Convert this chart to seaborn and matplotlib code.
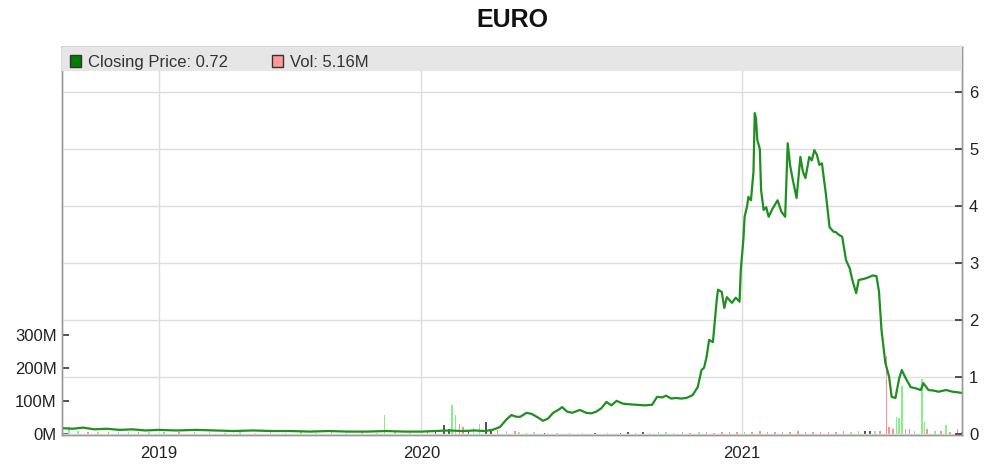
import numpy as np
import matplotlib
matplotlib.use("Agg")
import matplotlib.pyplot as plt
from matplotlib.patches import Patch, Rectangle
import seaborn as sns
import pandas as pd


# Сессии (торговые дни от начала графика) и цены закрытия
price_sessions = [0, 8, 16, 25, 35, 45, 55, 65, 76, 90, 105, 120, 135, 150, 165, 180,
                  195, 210, 225, 240, 255, 270, 283, 295, 305, 315, 325, 333, 339,
                  345, 350, 354, 358, 361, 366, 370, 374, 379, 383, 387, 391, 394, 398,
                  402, 408, 413, 417, 421, 425, 429, 433, 437, 442, 447, 453, 459, 465,
                  469, 473, 476, 480, 484, 488, 492, 497, 501, 504, 506, 508, 510, 513,
                  516, 517, 520, 522, 524, 526, 528, 531, 534, 535, 537, 538, 540, 541,
                  543, 545, 546, 547, 548, 550, 551, 553, 555, 557, 560, 564, 567, 570,
                  572, 574, 576, 579, 582, 584, 586, 589, 591, 593, 595, 597, 599, 602,
                  605, 608, 610, 612, 615, 618, 621, 623, 626, 628, 632, 635, 639, 642,
                  644, 646, 649, 652, 654, 657, 660, 662, 665, 669, 673, 677, 679, 683,
                  687, 691, 697, 702, 706, 709]
close_prices = [0.10, 0.09, 0.11, 0.08, 0.09, 0.07, 0.08, 0.06, 0.07, 0.06, 0.07, 0.06,
                0.05, 0.06, 0.05, 0.05, 0.04, 0.05, 0.04, 0.04, 0.05, 0.04, 0.04, 0.05,
                0.06, 0.05, 0.06, 0.05, 0.07,
                0.12, 0.25, 0.33, 0.30, 0.30, 0.37, 0.35, 0.30, 0.23, 0.27, 0.37, 0.42,
                0.47, 0.39, 0.37, 0.42, 0.37, 0.36, 0.39, 0.45, 0.56, 0.50, 0.58, 0.53,
                0.52, 0.51, 0.50, 0.51, 0.65, 0.64, 0.67, 0.62, 0.63, 0.62, 0.63, 0.68,
                0.82, 1.12, 1.16, 1.35, 1.65, 1.61, 2.35, 2.53, 2.49, 2.21, 2.40, 2.35,
                2.30, 2.39, 2.32, 2.88, 3.40, 3.81, 4.00, 4.16, 4.10, 4.60, 5.63, 5.54,
                5.16, 5.00, 4.28, 3.93, 3.98, 3.81, 3.95, 4.10, 3.90, 3.81, 5.10, 4.70,
                4.46, 4.14, 4.86, 4.60, 4.49, 4.86, 4.80, 4.98, 4.90, 4.72, 4.75, 4.23,
                3.63, 3.55, 3.54, 3.50, 3.46, 3.05, 2.90, 2.70, 2.47, 2.70, 2.72, 2.74,
                2.78, 2.77, 2.50, 1.82, 1.25, 1.00, 0.65, 0.63, 0.98, 1.12, 0.98, 0.82,
                0.80, 0.77, 0.89, 0.77, 0.76, 0.74, 0.77, 0.74, 0.73, 0.72]

# Объём (млн) по сессиям; направление дня: u - рост, d - падение, n - без изменений
vol_sessions = [5, 12, 20, 28, 36, 44, 52, 60, 68, 80, 92, 104, 116, 128, 140, 152, 164,
                176, 188, 200, 212, 224, 236, 248, 254, 262, 274, 288, 294, 301, 305,
                307, 310, 313, 316, 320, 324, 329, 334, 338, 343, 350, 357, 360, 366,
                372, 380, 390, 400, 410, 420, 430, 440, 446, 452, 458, 463, 470, 476,
                482, 489, 495, 502, 508, 514, 520, 526, 532, 538, 544, 550, 556, 562,
                568, 574, 580, 586, 592, 598, 604, 610, 616, 622, 628, 633, 637, 641,
                645, 650, 652, 655, 658, 660, 662, 665, 668, 672, 678, 680, 682, 688,
                693, 697, 700, 706, 709]
vol_millions = [22, 8, 6, 7, 5, 6, 5, 7, 5, 6, 5, 6, 5, 4, 5, 4, 5, 4, 5, 4, 5, 4, 5,
                4, 58, 5, 4, 6, 8, 28, 14, 86, 58, 30, 20, 12, 18, 30, 37, 15, 12, 10, 8,
                6, 4, 5, 3, 4, 3, 4, 3, 4, 4, 5, 3, 6, 4, 5, 6, 4, 5, 4, 6, 5, 4, 6, 5,
                7, 6, 5, 8, 6, 5, 7, 6, 8, 5, 7, 6, 5, 6, 8, 5, 10, 9, 10, 9, 8, 237, 20,
                15, 52, 48, 145, 14, 16, 10, 166, 37, 14, 8, 10, 28, 6, 15, 5.16]
vol_direction = ['u', 'u', 'd', 'u', 'd', 'u', 'u', 'd', 'u', 'u', 'd', 'u', 'u', 'u',
                 'u', 'd', 'u', 'u', 'u', 'u', 'u', 'u', 'u', 'u', 'u', 'u', 'u', 'd',
                 'n', 'n', 'n', 'u', 'u', 'd', 'd', 'n', 'u', 'u', 'n', 'n', 'd', 'u',
                 'd', 'u', 'd', 'u', 'n', 'u', 'd', 'u', 'n', 'u', 'n', 'n', 'd', 'n',
                 'u', 'u', 'u', 'u', 'd', 'd', 'u', 'd', 'd', 'd', 'd', 'd', 'u', 'd',
                 'd', 'd', 'd', 'd', 'd', 'd', 'd', 'd', 'd', 'd', 'd', 'd', 'u', 'u',
                 'n', 'n', 'u', 'd', 'd', 'd', 'd', 'u', 'u', 'u', 'd', 'd', 'u', 'u',
                 'u', 'd', 'u', 'd', 'u', 'd', 'd', 'd']

year_labels = ['2019', '2020', '2021']
year_sessions = [76, 283, 536]

last_close = 0.72
last_vol = '5.16M'

price_df = pd.DataFrame({'session': price_sessions, 'close': close_prices})
dir_colors = {'u': '#86ef86', 'd': '#ff8f8f', 'n': '#555555'}
vol_df = pd.DataFrame({'session': vol_sessions, 'vol': np.array(vol_millions) * 1e6,
                       'color': [dir_colors[d] for d in vol_direction]})

sns.set_style('white')
plt.rcParams['font.family'] = ['Liberation Sans', 'DejaVu Sans']

fig = plt.figure(figsize=(10, 4.71), dpi=100)
ax = fig.add_axes([0.062, 0.0764, 0.9, 0.8238])
ax2 = ax.twinx()

# объём - на левой оси
ax.bar(vol_df['session'], vol_df['vol'], width=1.2, color=vol_df['color'], linewidth=0)
ax.set_ylim(-3.5e6, 1173e6)
ax.set_yticks([0, 100e6, 200e6, 300e6])
ax.set_yticklabels(['0M', '100M', '200M', '300M'])
ax.set_xlim(-0.5, 709.5)
ax.set_xticks(year_sessions)
ax.set_xticklabels(year_labels)
ax.grid(True, axis='x', color='#dddddd', linewidth=1)
ax.set_axisbelow(True)

# цена - на правой оси
sns.lineplot(data=price_df, x='session', y='close', ax=ax2, color='#1f8f1f', linewidth=1.6)
ax2.set_ylim(-0.02, 6.79)
ax2.set_yticks(range(0, 7))
ax2.set_xlim(-0.5, 709.5)
ax2.grid(True, axis='y', color='#dddddd', linewidth=1)
ax2.set_axisbelow(True)
ax2.set_xlabel('')
ax2.set_ylabel('')
ax.set_xlabel('')

for a in (ax, ax2):
    for s in a.spines.values():
        s.set_color('#999999')
        s.set_linewidth(1)

ax.tick_params(axis='y', direction='in', length=5, width=1.2, color='#333333',
               labelsize=12, labelcolor='#222222', pad=4)
ax.tick_params(axis='x', direction='out', length=3, width=1.2, color='#333333',
               labelsize=12, labelcolor='#222222', pad=5)
ax2.tick_params(axis='y', direction='in', length=5, width=1.2, color='#333333',
                labelsize=12, labelcolor='#222222', pad=5)

# серая полоса легенды
band_y0 = 0.938
ax2.add_patch(Rectangle((0, band_y0), 1, 1 - band_y0, transform=ax2.transAxes,
                        facecolor='#e6e6e6', edgecolor='none', zorder=3))
handles = [Patch(facecolor='#008000', edgecolor='#333333', label=f'Closing Price: {last_close}'),
           Patch(facecolor='#ff9999', edgecolor='#333333', label=f'Vol: {last_vol}')]
leg = ax2.legend(handles=handles, loc='upper left', bbox_to_anchor=(0.0, 1.0), ncol=2,
                 frameon=False, fontsize=12, handlelength=0.7, handleheight=0.7,
                 handletextpad=0.42, columnspacing=2.6, borderaxespad=0.25, borderpad=0.2)
leg.set_zorder(4)
for t in leg.get_texts():
    t.set_color('#333333')

fig.text(0.512, 1 - 27 / 471, 'EURO', ha='center', va='baseline',
         fontsize=18, fontweight='bold', color='#111111')

fig.savefig('out.png', dpi=100)
